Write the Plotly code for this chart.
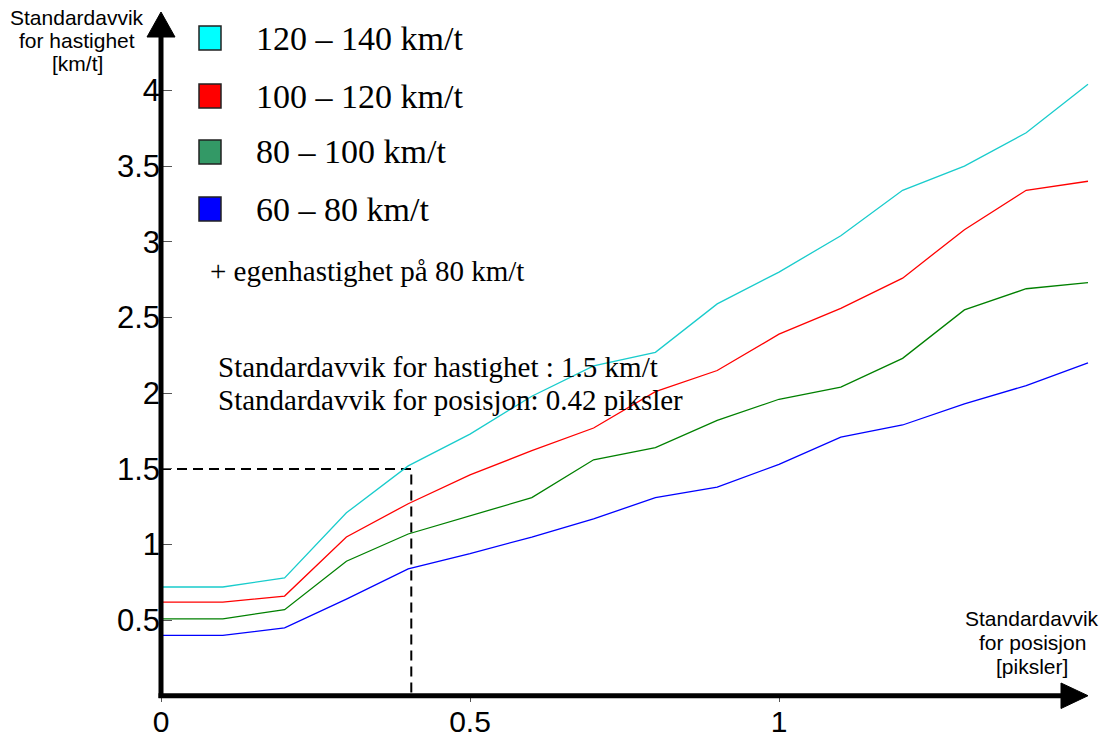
import plotly.graph_objects as go

# ---------------- data ----------------
x_vals = [0.0, 0.1, 0.2, 0.3, 0.4, 0.5, 0.6, 0.7, 0.8, 0.9, 1.0, 1.1, 1.2, 1.3, 1.4, 1.5]
s120_140 = [0.72, 0.72, 0.78, 1.21, 1.52, 1.73, 1.98, 2.18, 2.27, 2.59, 2.80, 3.04, 3.34, 3.50, 3.72, 4.04]
s100_120 = [0.62, 0.62, 0.66, 1.05, 1.27, 1.46, 1.62, 1.77, 2.01, 2.15, 2.39, 2.56, 2.76, 3.08, 3.34, 3.40]
s80_100 = [0.51, 0.51, 0.57, 0.89, 1.07, 1.19, 1.31, 1.56, 1.64, 1.82, 1.96, 2.04, 2.23, 2.55, 2.69, 2.73]
s60_80 = [0.40, 0.40, 0.45, 0.64, 0.84, 0.94, 1.05, 1.17, 1.31, 1.38, 1.53, 1.71, 1.79, 1.93, 2.05, 2.20]

series_names = ["120 – 140 km/t", "100 – 120 km/t", "80 – 100 km/t", "60 – 80 km/t"]
series_values = [s120_140, s100_120, s80_100, s60_80]
line_colors = ["#19CCCC", "#FF0000", "#008000", "#0000FF"]
legend_colors = ["#00FFFF", "#FF0000", "#339966", "#0000FF"]

x_tick_vals = [0, 0.5, 1]
x_tick_text = ["0", "0.5", "1"]
y_tick_vals = [0.5, 1, 1.5, 2, 2.5, 3, 3.5, 4]
y_tick_text = ["0.5", "1", "1.5", "2", "2.5", "3", "3.5", "4"]

ref_x = 0.405   # reference position std-dev (dashed line)
ref_y = 1.5     # reference speed std-dev (dashed line)

y_title = ["Standardavvik", "for hastighet", "[km/t]"]
x_title = ["Standardavvik", "for posisjon", "[piksler]"]
note1 = "+ egenhastighet på 80 km/t"
note2 = ["Standardavvik for hastighet : 1.5 km/t", "Standardavvik for posisjon: 0.42 piksler"]

# ---------------- layout geometry ----------------
W, H = 1111, 738
L, R, T, B = 161, 5, 0, 42
PX_PER_X = 618.0
PX_PER_Y = 151.4
pw, ph = W - L - R, H - T - B
x_range = [0, pw / PX_PER_X]
y_range = [0, ph / PX_PER_Y]


def pxp(px):
    return (px - L) / pw


def pyp(py):
    return (H - B - py) / ph


SANS = "Liberation Sans, Arial, sans-serif"
SERIF = "Liberation Serif, Times New Roman, serif"

fig = go.Figure()

# reference dashed lines
fig.add_trace(go.Scatter(
    x=[0, ref_x, ref_x], y=[ref_y, ref_y, -0.02], mode="lines",
    line=dict(color="black", width=2, dash="10px,6px"),
    showlegend=False, hoverinfo="skip", cliponaxis=False))

for name, vals, col in zip(series_names, series_values, line_colors):
    fig.add_trace(go.Scatter(
        x=x_vals, y=vals, mode="lines", name=name,
        line=dict(color=col, width=1.3),
        showlegend=False, hoverinfo="skip", cliponaxis=False))

shapes = []
annotations = []

# axis lines with arrowheads (paper coords)
shapes.append(dict(type="line", xref="paper", yref="paper",
                   x0=0, x1=0, y0=pyp(698), y1=pyp(36),
                   line=dict(color="black", width=5)))
shapes.append(dict(type="path", xref="paper", yref="paper",
                   path=f"M {pxp(147)},{pyp(37)} L {pxp(175)},{pyp(37)} L {pxp(161)},{pyp(12)} Z",
                   fillcolor="black", line=dict(color="black", width=1)))
shapes.append(dict(type="line", xref="paper", yref="paper",
                   x0=pxp(158.5), x1=pxp(1062), y0=pyp(695.7), y1=pyp(695.7),
                   line=dict(color="black", width=5)))
shapes.append(dict(type="path", xref="paper", yref="paper",
                   path=f"M {pxp(1061)},{pyp(683)} L {pxp(1061)},{pyp(708.5)} L {pxp(1088)},{pyp(695.7)} Z",
                   fillcolor="black", line=dict(color="black", width=1)))

# legend (boxes + text)
row_y = [38, 96, 152, 209]
for name, col, ry in zip(series_names, legend_colors, row_y):
    shapes.append(dict(type="rect", xref="paper", yref="paper",
                       x0=pxp(199), x1=pxp(221), y0=pyp(ry + 12), y1=pyp(ry - 12),
                       fillcolor=col, line=dict(color="#222222", width=1.5)))
    annotations.append(dict(x=pxp(254), y=pyp(ry), xref="paper", yref="paper",
                            text=name, showarrow=False, xanchor="left", yanchor="middle",
                            font=dict(family=SERIF, size=34, color="black")))

annotations.append(dict(x=pxp(208), y=pyp(271), xref="paper", yref="paper",
                        text=note1, showarrow=False, xanchor="left", yanchor="middle",
                        font=dict(family=SERIF, size=29, color="black")))
for txt, ry in zip(note2, [367, 400]):
    annotations.append(dict(x=pxp(216), y=pyp(ry), xref="paper", yref="paper",
                            text=txt, showarrow=False, xanchor="left", yanchor="middle",
                            font=dict(family=SERIF, size=29, color="black")))

# axis titles
for txt, ry in zip(y_title, [17, 40, 63]):
    annotations.append(dict(x=pxp(77), y=pyp(ry), xref="paper", yref="paper",
                            text=txt, showarrow=False, xanchor="center", yanchor="middle",
                            font=dict(family=SANS, size=21, color="black")))
for txt, ry in zip(x_title, [618, 642, 666]):
    annotations.append(dict(x=pxp(1032), y=pyp(ry), xref="paper", yref="paper",
                            text=txt, showarrow=False, xanchor="center", yanchor="middle",
                            font=dict(family=SANS, size=21, color="black")))

fig.update_layout(
    width=W, height=H,
    margin=dict(l=L, r=R, t=T, b=B, pad=0, autoexpand=False),
    paper_bgcolor="white", plot_bgcolor="white",
    showlegend=False, hovermode=False,
    shapes=shapes, annotations=annotations,
    xaxis=dict(range=x_range, showgrid=False, zeroline=False, showline=False,
               automargin=False,
               tickmode="array", tickvals=x_tick_vals, ticktext=x_tick_text,
               ticks="outside", ticklen=5, tickwidth=1, tickcolor="#555555",
               ticklabelstandoff=-6,
               tickfont=dict(family=SANS, size=30, color="black"),
               fixedrange=True),
    yaxis=dict(range=y_range, showgrid=False, zeroline=False, showline=False,
               automargin=False,
               tickmode="array", tickvals=y_tick_vals, ticktext=y_tick_text,
               ticks="inside", ticklen=11, tickwidth=1, tickcolor="#555555",
               tickfont=dict(family=SANS, size=31, color="black"),
               fixedrange=True),
)

fig.write_html("out.html")
